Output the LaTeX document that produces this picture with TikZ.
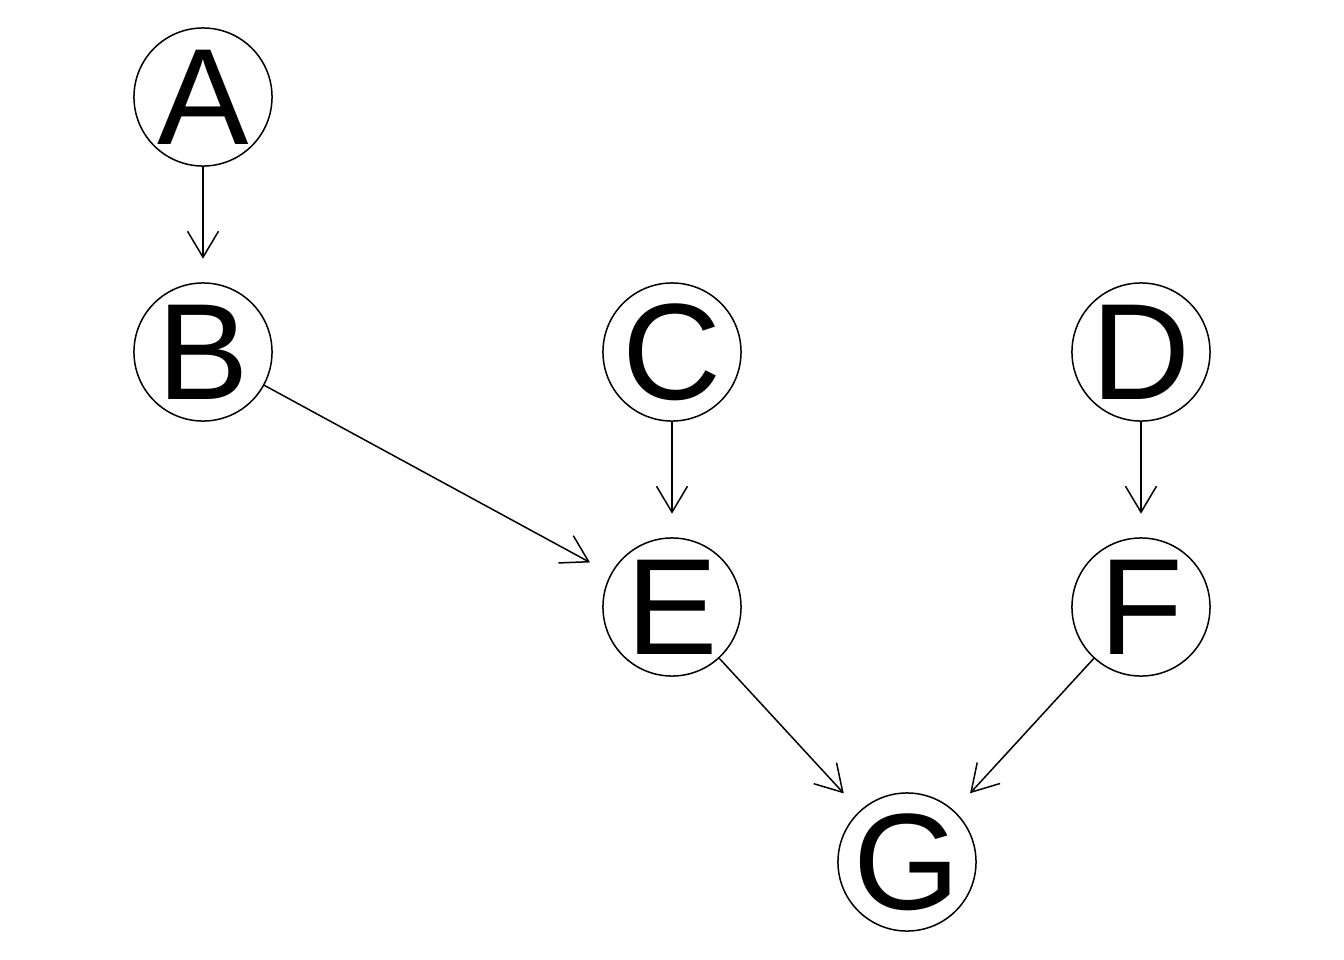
\documentclass[tikz,border=0pt]{standalone}
\usepackage{fontspec}
\setmainfont{Liberation Sans}
\usetikzlibrary{arrows.meta}
\begin{document}
\begin{tikzpicture}[x=0.01cm,y=-0.01cm,
  vtx/.style={circle,draw,line width=0.015cm,minimum size=1.38cm,inner sep=0pt,
    font=\fontsize{39pt}{39pt}\selectfont},
  edge/.style={line width=0.015cm,-{Straight Barb[length=0.26cm,width=0.31cm]},shorten >=0.235cm}]
\useasboundingbox (0,0) rectangle (1344,960);
\node[vtx] (A) at (203,97) {\makebox[0pt]{A}};
\node[vtx] (B) at (203,352) {\makebox[0pt]{B}};
\node[vtx] (C) at (672,352) {\makebox[0pt]{C}};
\node[vtx] (D) at (1141,352) {\makebox[0pt]{D}};
\node[vtx] (E) at (672,607) {\makebox[0pt]{E}};
\node[vtx] (F) at (1141,607) {\makebox[0pt]{F}};
\node[vtx] (G) at (907,862) {\makebox[0pt]{G}};
\draw[edge] (A) -- (B);
\draw[edge] (B) -- (E);
\draw[edge] (C) -- (E);
\draw[edge] (D) -- (F);
\draw[edge] (E) -- (G);
\draw[edge] (F) -- (G);
\end{tikzpicture}
\end{document}
